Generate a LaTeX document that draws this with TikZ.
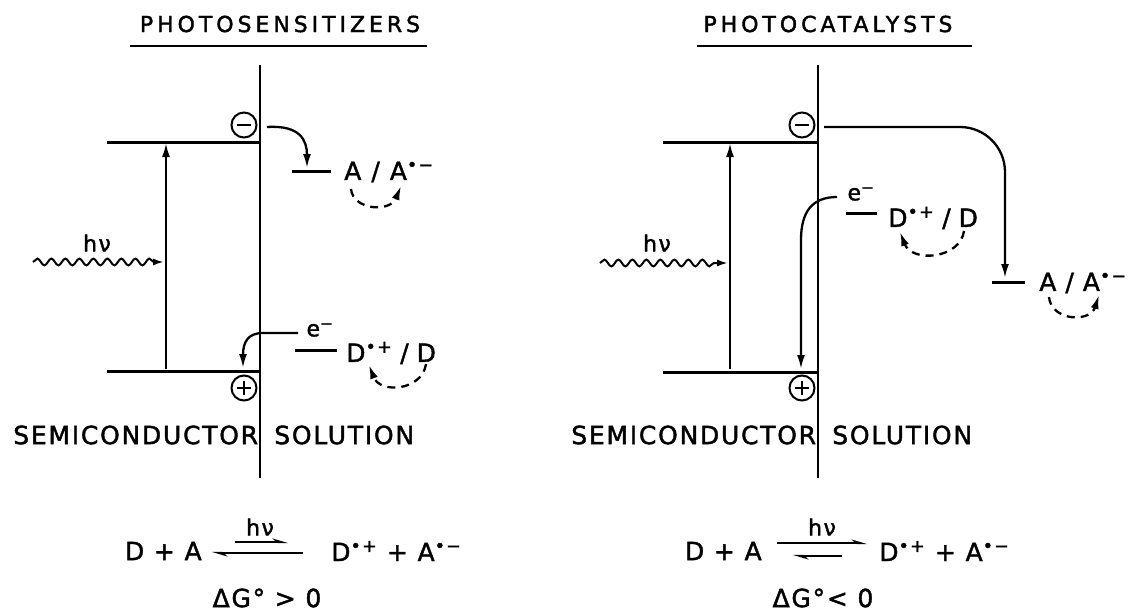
\documentclass[tikz,border=0pt]{standalone}
\usepackage{fontspec}
\setmainfont{DejaVu Sans}
\newfontfamily\letterfont[LetterSpace=7, FakeBold=1.6]{DejaVu Sans}
\newfontfamily\titlefont[LetterSpace=18, FakeBold=1.8]{DejaVu Sans}
\usetikzlibrary{arrows.meta, positioning, decorations.pathmorphing}

\newcommand{\rad}[1]{\textsuperscript{•#1}}
\newcommand{\pair}[3][10pt]{#2\hspace{#1}/\hspace{#1}#3}

\begin{document}
\begin{tikzpicture}[
    x=1pt, y=-1pt,
    line width=2.6pt,
    title/.style={font=\titlefont\fontsize{22}{24}\selectfont, inner sep=0pt},
    lettering/.style={font=\letterfont\fontsize{25}{28}\selectfont, inner sep=0pt},
    small/.style={font=\letterfont\fontsize{22}{24}\selectfont, inner sep=0pt},
    charge/.style={circle, draw, line width=2pt, minimum size=25pt, inner sep=0pt},
    minus/.style={charge, path picture={\draw[line width=2.2pt] ([xshift=-7pt]path picture bounding box.center) -- ([xshift=7pt]path picture bounding box.center);}},
    plus/.style={charge, path picture={\draw[line width=2.2pt] ([xshift=-7pt]path picture bounding box.center) -- ([xshift=7pt]path picture bounding box.center) ([yshift=-7pt]path picture bounding box.center) -- ([yshift=7pt]path picture bounding box.center);}},
    bandline/.style={line width=3pt},
    arrow/.style={-{Latex[length=14pt, width=8pt]}, line width=2.3pt},
    redox/.style={arrow, dash pattern=on 8pt off 6pt},
    photon/.style={-{Latex[length=11pt, width=7pt]}, line width=2pt, decorate, decoration={snake, amplitude=3.4pt, segment length=14pt, post length=10pt}},
    eqarrow/.style={-{Stealth[harpoon, length=12pt, width=7pt]}, line width=2.2pt}
]
\useasboundingbox (0,0) rectangle (1128,613);

% Titles
\node[title] (titleL) at (280,24) {PHOTOSENSITIZERS};
\node[title] (titleR) at (828,24) {PHOTOCATALYSTS};
\draw[line width=2.8pt] (130,46) -- (427,46);
\draw[line width=2.8pt] (697,46) -- (972,46);

% Photosensitizers: bands
\draw (260,65) -- (260,478);
\draw[bandline] (107,142) -- (260,142);
\draw[bandline] (107,371) -- (260,371);
\node[minus] (elecL) at (244,125) {};
\node[plus] (holeL) at (244,388) {};
\draw[arrow] (166,369) -- (166,143);
\draw[photon] (33,262) -- (164,262);
\node[small] (hvL) at (97,243) {hν};

% Photosensitizers: redox couples
\draw[bandline] (292,171) -- (331,171);
\node[lettering, anchor=west] (accL) at (343,172) {\pair{A}{A\rad{−}}};
\draw[bandline] (295,350) -- (337,350);
\node[lettering, anchor=west] (donL) at (345,353) {\pair[8pt]{D\rad{+}}{D}};
\node[small] (eL) at (320,330) {e\textsuperscript{−}};
\draw[arrow] (267,127) .. controls (300,125) and (307,140) .. (307,168);
\draw[arrow] (298,333) -- (263,333) .. controls (248,333) and (243,342) .. (243,368);
\draw[redox] (351,189) .. controls (353,210) and (390,213) .. (401,186);
\draw[redox] (426,364) .. controls (422,391) and (380,394) .. (369,365);

\node[lettering, anchor=west] (semiL) at (12,435) {SEMICONDUCTOR};
\node[lettering, anchor=west] (solL) at (273,435) {SOLUTION};

% Photosensitizers: reaction
\node[lettering, anchor=east] (reactL) at (203,551) {D + A};
\node[lettering, anchor=west] (prodL) at (330,551) {D\rad{+} + A\rad{−}};
\draw[eqarrow] (235,542) -- (288,542);
\draw[eqarrow] (303,553) -- (212,553);
\node[small] (hveqL) at (260,527) {hν};
\node[lettering] (dgL) at (267,598) {ΔG° > 0};

% Photocatalysts: bands
\draw (818,65) -- (818,478);
\draw[bandline] (663,142) -- (818,142);
\draw[bandline] (663,372) -- (818,372);
\node[minus] (elecR) at (802,125) {};
\node[plus] (holeR) at (802,388) {};
\draw[arrow] (730,369) -- (730,143);
\draw[photon] (600,263) -- (728,263);
\node[small] (hvR) at (657,243) {hν};

% Photocatalysts: redox couples
\draw[bandline] (846,213) -- (877,213);
\node[lettering, anchor=west] (donR) at (887,218) {\pair[8pt]{D\rad{+}}{D}};
\node[small] (eR) at (861,194) {e\textsuperscript{−}};
\draw[bandline] (992,282) -- (1025,282);
\node[lettering, anchor=west] (accR) at (1038,283) {\pair[9pt]{A}{A\rad{−}}};
\draw[arrow, rounded corners=45pt] (824,127) -- (1005,127) -- (1005,278);
\draw[arrow] (837,197) .. controls (812,197) and (801,212) .. (801,240) -- (801,369);
\draw[redox] (1049,297) .. controls (1051,321) and (1090,323) .. (1099,295);
\draw[redox] (964,231) .. controls (960,259) and (912,263) .. (900,232);

\node[lettering, anchor=west] (semiR) at (570,435) {SEMICONDUCTOR};
\node[lettering, anchor=west] (solR) at (831,435) {SOLUTION};

% Photocatalysts: reaction
\node[lettering, anchor=east] (reactR) at (763,551) {D + A};
\node[lettering, anchor=west] (prodR) at (878,551) {D\rad{+} + A\rad{−}};
\draw[eqarrow] (777,543) -- (867,543);
\draw[eqarrow] (842,556) -- (793,556);
\node[small] (hveqR) at (822,527) {hν};
\node[lettering] (dgR) at (823,598) {ΔG°< 0};

\end{tikzpicture}
\end{document}
